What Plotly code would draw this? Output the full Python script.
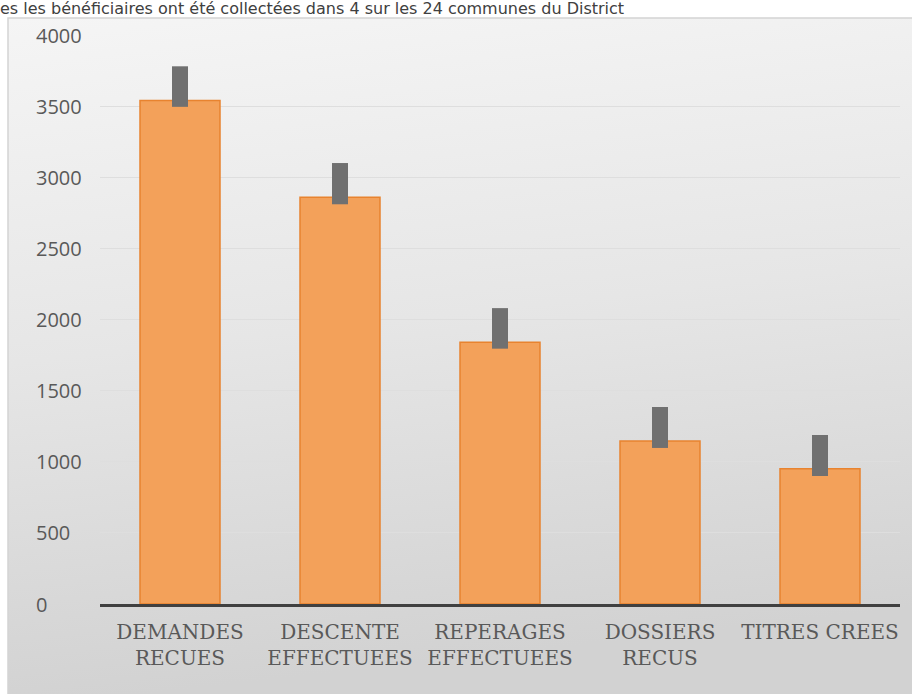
import base64
import plotly.graph_objects as go

categories = ["DEMANDES<br>RECUES", "DESCENTE<br>EFFECTUEES", "REPERAGES<br>EFFECTUEES",
              "DOSSIERS<br>RECUS", "TITRES CREES"]
values = [3540, 2860, 1840, 1145, 950]
err_plus = [240, 240, 240, 240, 238]
err_minus = [45, 50, 45, 48, 50]
y_ticks = [0, 500, 1000, 1500, 2000, 2500, 3000, 3500, 4000]
title_text = "es les bénéficiaires ont été collectées dans 4 sur les 24 communes du District"

W, H = 912, 694
L, R, T, B = 100, 12, 35, 90
pw = W - L - R
ph = H - T - B

def px_x(p):
    return (p - L) / pw

def px_y(p):
    return (H - B - p) / ph

svg = ('<svg xmlns="http://www.w3.org/2000/svg" width="904" height="676" preserveAspectRatio="none">'
       '<defs><linearGradient id="g" x1="0" y1="0" x2="0.15" y2="1">'
       '<stop offset="0" stop-color="#f5f5f5"/><stop offset="0.5" stop-color="#e6e6e6"/>'
       '<stop offset="1" stop-color="#d2d2d2"/></linearGradient></defs>'
       '<rect width="904" height="676" fill="url(#g)"/></svg>')
src = "data:image/svg+xml;base64," + base64.b64encode(svg.encode()).decode()

fig = go.Figure()
fig.add_trace(go.Bar(
    x=categories, y=values, width=0.5,
    marker=dict(color="#F3A15A", line=dict(color="#E8832F", width=1.5)),
    error_y=dict(type="data", array=err_plus, arrayminus=err_minus, symmetric=False,
                 color="#707070", thickness=16, width=0),
))

annotations = []
for t in y_ticks:
    annotations.append(dict(x=px_x(34), y=t, xref="paper", yref="y", text=str(t),
                            showarrow=False, xanchor="left", yanchor="middle",
                            font=dict(family="Open Sans", size=20, color="#595959")))
annotations.append(dict(x=px_x(-2), y=px_y(-3), xref="paper", yref="paper", text=title_text,
                        showarrow=False, xanchor="left", yanchor="top",
                        font=dict(family="DejaVu Sans", size=16, color="#404040")))

fig.update_layout(
    width=W, height=H,
    margin=dict(l=L, r=R, t=T, b=B),
    paper_bgcolor="white", plot_bgcolor="rgba(0,0,0,0)",
    showlegend=False,
    bargap=0.5,
    annotations=annotations,
    images=[dict(source=src, xref="paper", yref="paper", x=px_x(8), y=px_y(18),
                 sizex=(W - 8) / pw, sizey=(H - 18) / ph, sizing="stretch",
                 xanchor="left", yanchor="top", layer="below")],
    shapes=[dict(type="rect", xref="paper", yref="paper", x0=px_x(8), x1=px_x(W + 5),
                 y0=px_y(H + 5), y1=px_y(18), line=dict(color="#d4d4d4", width=1.5),
                 fillcolor="rgba(0,0,0,0)", layer="below")],
    xaxis=dict(showgrid=False, showline=True, linecolor="#404040", linewidth=3,
               ticks="", ticklabelstandoff=8,
               tickfont=dict(family="DejaVu Serif", size=20, color="#595959")),
    yaxis=dict(range=[0, 4000], tickvals=y_ticks, showticklabels=False,
               gridcolor="#dedede", gridwidth=1, zeroline=False, showline=False),
)

fig.write_html("out.html")
